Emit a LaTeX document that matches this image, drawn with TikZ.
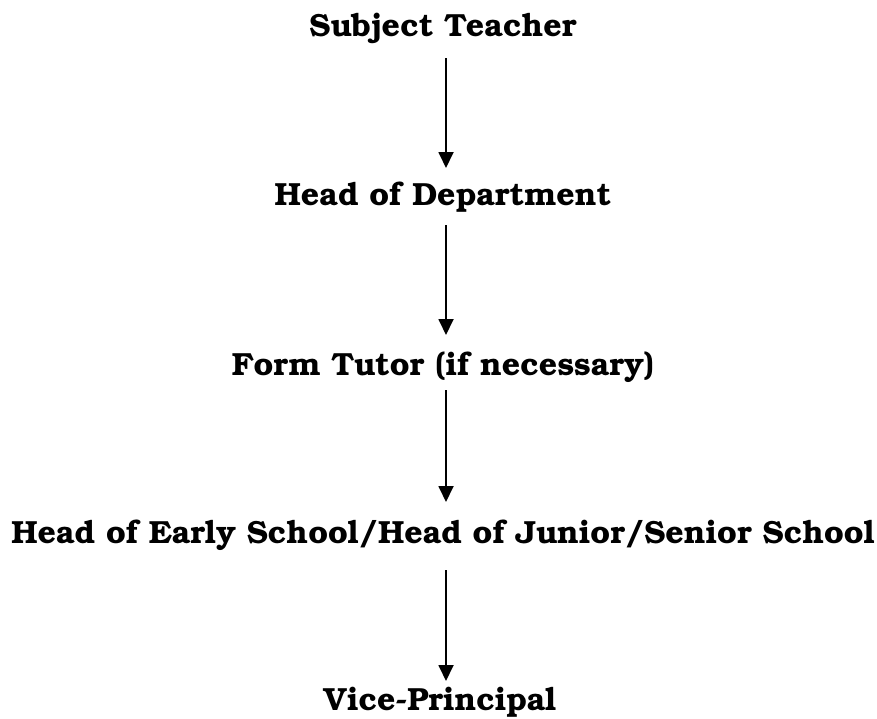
\documentclass[tikz,border=0pt]{standalone}
\usepackage[T1]{fontenc}
\usepackage{bookman}
\usetikzlibrary{arrows.meta}
\tikzset{
  lbl/.style={anchor=base, inner sep=0pt, font=\fontsize{32}{38}\bfseries\selectfont},
  conn/.style={line width=1.8pt, -{Triangle[length=16pt,width=15pt]}}
}
\begin{document}
\begin{tikzpicture}[x=1pt,y=-1pt]
\useasboundingbox (0,0) rectangle (877,718);
\node[lbl] (st) at (443,36) {Subject Teacher};
\node[lbl] (hd) at (443,205) {Head of Department};
\node[lbl] (ft) at (443,375) {Form Tutor (if necessary)};
\node[lbl] (he) at (443,543) {Head of Early School/Head of Junior/Senior School};
\node[lbl] (vp) at (440,710.5) {Vice-Principal};
\coordinate (a1s) at (446,58);  \coordinate (a1e) at (446,168);
\coordinate (a2s) at (446,225); \coordinate (a2e) at (446,335);
\coordinate (a3s) at (446,390); \coordinate (a3e) at (446,502);
\coordinate (a4s) at (446,570); \coordinate (a4e) at (446,681);
\draw[conn] (a1s) -- (a1e);
\draw[conn] (a2s) -- (a2e);
\draw[conn] (a3s) -- (a3e);
\draw[conn] (a4s) -- (a4e);
\end{tikzpicture}
\end{document}
